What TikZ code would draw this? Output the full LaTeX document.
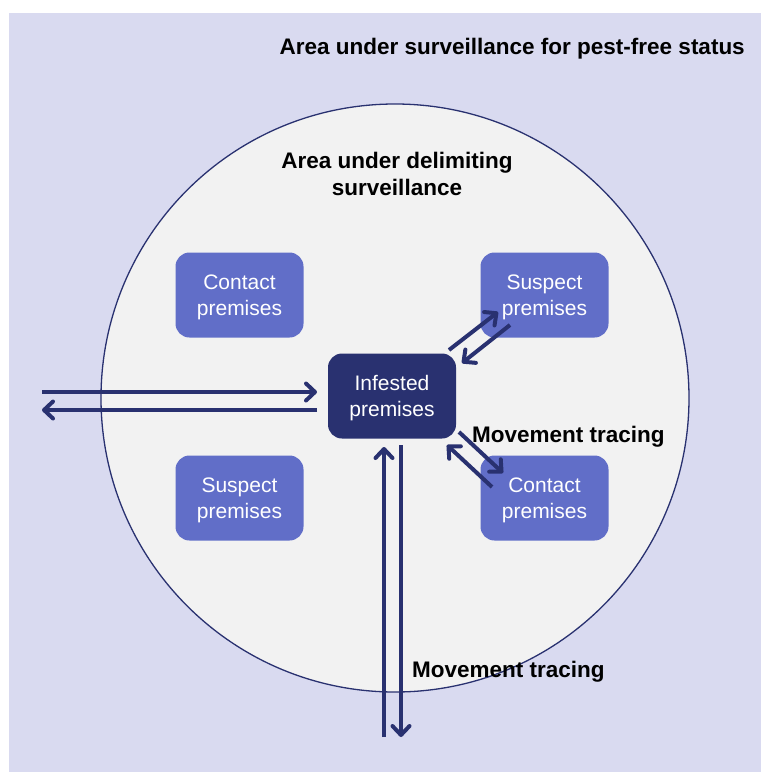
\documentclass[tikz,border=0pt]{standalone}
\usepackage{fontspec}
\setmainfont{Liberation Sans}
\usetikzlibrary{arrows.meta}
\definecolor{bglav}{RGB}{217,218,240}
\definecolor{circfill}{RGB}{242,242,242}
\definecolor{navy}{RGB}{41,49,112}
\definecolor{boxblue}{RGB}{97,110,200}
\newcommand{\premtext}[1]{\raisebox{-2pt}[\height][\depth]{\begin{tabular}{@{}c@{}}#1\\premises\end{tabular}}}
\tikzset{
  premise/.style={rounded corners=14pt, minimum width=128pt, minimum height=85pt,
    align=center, text=white, inner sep=0pt,
    font=\fontsize{21}{26}\selectfont},
  lightbox/.style={premise, fill=boxblue},
  darkbox/.style={premise, fill=navy},
  flow/.style={draw=navy, line width=4pt,
    -{Straight Barb[length=9pt,width=17pt,round]}},
  label/.style={font=\bfseries\fontsize{22.5}{27}\selectfont, inner sep=0pt, align=center}
}
\begin{document}
\begin{tikzpicture}[x=1pt,y=-1pt]
\useasboundingbox (0,0) rectangle (761,772);
\fill[bglav] (9,13) rectangle (761,772);
\draw[navy, line width=1.3pt, fill=circfill] (395,398) circle[radius=294];

\node[label, anchor=east] (title) at (745,49) {Area under surveillance for pest-free status};
\node[label] (delim) at (397,173.5) {Area under delimiting\\surveillance};

\node[lightbox] (c1) at (239.5,295) {\premtext{Contact}};
\node[lightbox] (s1) at (544.5,295) {\premtext{Suspect}};
\node[lightbox] (s2) at (239.5,498) {\premtext{Suspect}};
\node[lightbox] (c2) at (544.5,498) {\premtext{Contact}};
\node[darkbox] (inf) at (392,396) {\premtext{Infested}};

\node[label, anchor=west] (mt1) at (472,437) {Movement tracing};
\node[label, anchor=west] (mt2) at (412,672) {Movement tracing};

\coordinate (l1a) at (42,392);  \coordinate (l1b) at (317,392);
\coordinate (l2a) at (317,410); \coordinate (l2b) at (42,410);
\coordinate (v1a) at (384,737); \coordinate (v1b) at (384,447);
\coordinate (v2a) at (401,445); \coordinate (v2b) at (401,737);
\coordinate (d1a) at (449,350); \coordinate (d1b) at (498,312);
\coordinate (d2a) at (510,325); \coordinate (d2b) at (462,363);
\coordinate (d3a) at (459,432); \coordinate (d3b) at (503,473);
\coordinate (d4a) at (492,487); \coordinate (d4b) at (447,445);

\draw[flow] (l1a) -- (l1b);
\draw[flow] (l2a) -- (l2b);
\draw[flow] (v1a) -- (v1b);
\draw[flow] (v2a) -- (v2b);
\draw[flow] (d1a) -- (d1b);
\draw[flow] (d2a) -- (d2b);
\draw[flow] (d3a) -- (d3b);
\draw[flow] (d4a) -- (d4b);
\end{tikzpicture}
\end{document}
